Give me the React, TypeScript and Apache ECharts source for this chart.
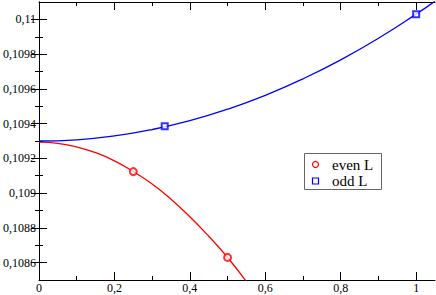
import React, { useEffect, useRef } from "react";
import * as echarts from "echarts";

const evenX = [0, 0.05, 0.1, 0.15, 0.2, 0.25, 0.3, 0.35, 0.4, 0.45, 0.5, 0.55, 0.6];
const evenY = [0.109293, 0.109286, 0.109266, 0.109233, 0.109186, 0.109124, 0.109052, 0.108965, 0.108864, 0.108752, 0.10863, 0.10849, 0.10833];
const oddX = [0, 0.1, 0.2, 0.3, 0.4, 0.5, 0.6, 0.7, 0.8, 0.9, 1.0, 1.05];
const oddY = [0.1093, 0.109307, 0.109329, 0.109366, 0.109417, 0.109483, 0.109563, 0.109658, 0.109767, 0.109891, 0.11003, 0.110105];
const evenMarkX = [0.25, 0.5];
const evenMarkY = [0.109124, 0.10863];
const oddMarkX = [1 / 3, 1];
const oddMarkY = [0.109385, 0.11003];
const xMajor = [0, 0.2, 0.4, 0.6, 0.8, 1];
const xMinor = [0.1, 0.3, 0.5, 0.7, 0.9];
const yMajor = [0.1086, 0.1088, 0.109, 0.1092, 0.1094, 0.1096, 0.1098, 0.11];
const yMinor = [0.1087, 0.1089, 0.1091, 0.1093, 0.1095, 0.1097, 0.1099];
const legendNames = ["even L", "odd L"];

const fmt = (v: number) => String(Number(v.toFixed(4))).replace(".", ",");
const FONT = "'Liberation Serif', 'Times New Roman', serif";

export default function App() {
  const ref = useRef<HTMLDivElement>(null);
  useEffect(() => {
    if (!ref.current) return;
    const chart = echarts.init(ref.current, null, { renderer: "svg" });
    const line = { show: true, lineStyle: { color: "#000", width: 1 } };
    const xBase = { type: "value", min: 0, max: 1.05, splitLine: { show: false } };
    const yBase = { type: "value", min: 0.1085, max: 0.1101, splitLine: { show: false } };
    const tick = (vals: number[], len: number) => ({
      show: true, inside: true, length: len, customValues: vals,
      lineStyle: { color: "#000", width: 1 },
    });
    chart.setOption({
      animation: false,
      backgroundColor: "#fff",
      grid: { left: 36, right: 1, top: 2, bottom: 15, containLabel: false },
      xAxis: [
        {
          ...xBase, position: "bottom", axisLine: line, axisTick: tick(xMajor, 8),
          axisLabel: { customValues: xMajor, formatter: fmt, margin: 2, color: "#000", fontFamily: FONT, fontSize: 12 },
        },
        { ...xBase, position: "bottom", axisLine: { show: false }, axisTick: tick(xMinor, 4), axisLabel: { show: false } },
        { ...xBase, position: "top", axisLine: line, axisTick: tick(xMajor, 8), axisLabel: { show: false } },
        { ...xBase, position: "top", axisLine: { show: false }, axisTick: tick(xMinor, 4), axisLabel: { show: false } },
      ],
      yAxis: [
        {
          ...yBase, position: "left", axisLine: line, axisTick: tick(yMajor, 8),
          axisLabel: { customValues: yMajor, formatter: fmt, margin: 3, color: "#000", fontFamily: FONT, fontSize: 12 },
        },
        { ...yBase, position: "left", axisLine: { show: false }, axisTick: tick(yMinor, 4), axisLabel: { show: false } },
        { ...yBase, position: "right", axisLine: line, axisTick: tick(yMajor, 8), axisLabel: { show: false } },
        { ...yBase, position: "right", axisLine: { show: false }, axisTick: tick(yMinor, 4), axisLabel: { show: false } },
      ],
      series: [
        {
          name: "even curve", type: "line", smooth: true, showSymbol: false, clip: true,
          data: evenX.map((x, i) => [x, evenY[i]]),
          lineStyle: { color: "#ff0000", width: 1.3 },
        },
        {
          name: "odd curve", type: "line", smooth: true, showSymbol: false, clip: true,
          data: oddX.map((x, i) => [x, oddY[i]]),
          lineStyle: { color: "#0000ff", width: 1.3 },
        },
        {
          name: legendNames[0], type: "scatter", symbol: "emptyCircle", symbolSize: 7,
          data: evenMarkX.map((x, i) => [x, evenMarkY[i]]),
          itemStyle: { color: "#ff0000", borderColor: "#ff0000", borderWidth: 1.2 }, z: 5,
        },
        {
          name: legendNames[1], type: "scatter", symbol: "emptyRect", symbolSize: 6,
          data: oddMarkX.map((x, i) => [x, oddMarkY[i]]),
          itemStyle: { color: "#0000ff", borderColor: "#0000ff", borderWidth: 1.2 }, z: 5,
        },
      ],
      graphic: [
        {
          type: "group", z: 100,
          children: [
            { type: "rect", shape: { x: 304.5, y: 153.5, width: 77, height: 36 }, style: { fill: "#fff", stroke: "#666", lineWidth: 1 } },
            { type: "circle", shape: { cx: 315.5, cy: 164.5, r: 3 }, style: { fill: "#fff", stroke: "#ff0000", lineWidth: 1.2 } },
            { type: "rect", shape: { x: 312.5, y: 178, width: 6, height: 6 }, style: { fill: "#fff", stroke: "#0000ff", lineWidth: 1.2 } },
            { type: "text", x: 332, y: 164.5, style: { text: legendNames[0], fill: "#000", font: `15px ${FONT}`, verticalAlign: "middle", align: "left" } },
            { type: "text", x: 332, y: 181, style: { text: legendNames[1], fill: "#000", font: `15px ${FONT}`, verticalAlign: "middle", align: "left" } },
          ],
        },
      ],
    });
    return () => chart.dispose();
  }, []);
  return <div ref={ref} style={{ position: "fixed", left: 0, top: 0, width: 436, height: 295 }} />;
}
